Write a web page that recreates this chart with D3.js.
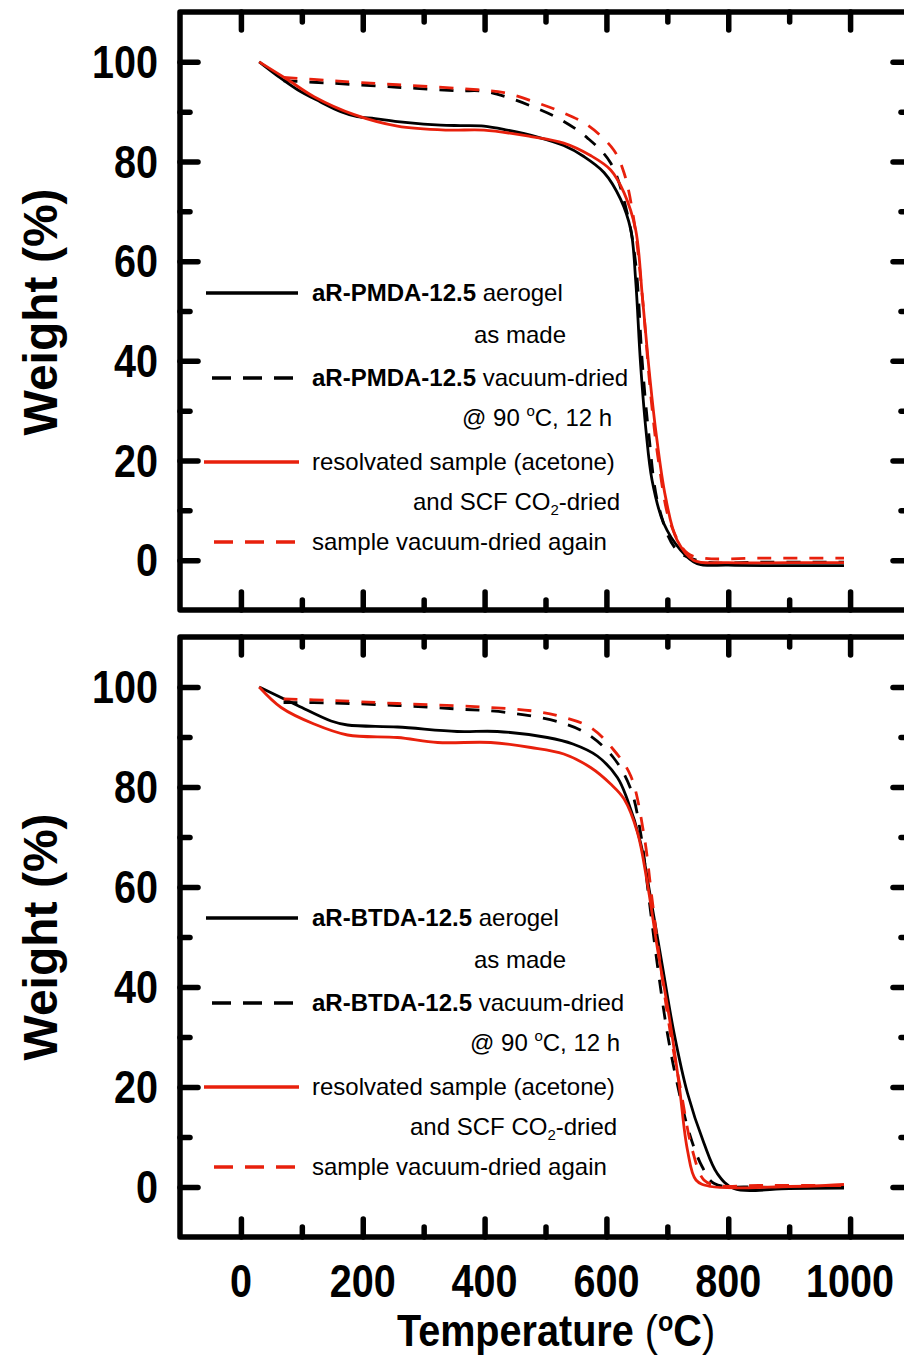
<!DOCTYPE html>
<html>
<head>
<meta charset="utf-8">
<title>TGA aR-PMDA-12.5 / aR-BTDA-12.5</title>
<script src="https://d3js.org/d3.v7.min.js"></script>
<style>
  body { margin: 0; background: #fff; }
  text { font-family: "Liberation Sans", Arial, sans-serif; fill: #000; }
</style>
</head>
<body>
<script>
var width = 904, height = 1359;

// ticks
var xMajor = [0, 200, 400, 600, 800, 1000];
var xMinor = [100, 300, 500, 700, 900];
var yMajor = [0, 20, 40, 60, 80, 100];
var yMinor = [10, 30, 50, 70, 90];

// aR-PMDA-12.5 (top panel)
var pmdaMadeT = [30, 60, 93, 130, 164, 191, 220, 257, 300, 328, 360, 399, 437, 487, 530, 563, 596, 623, 640, 648, 656, 665, 675, 694, 722, 749, 800, 900, 990];
var pmdaMadeW = [100, 97.2, 94.4, 92, 90, 89, 88.6, 88, 87.5, 87.3, 87.2, 87.1, 86.3, 84.9, 83.2, 81, 77.8, 72.5, 66.3, 56.2, 39.5, 26, 16, 7.4, 2, -0.7, -1.0, -1.1, -1.1];
var pmdaVacT = [70, 150, 257, 355, 399, 437, 481, 525, 569, 607, 634, 648, 659, 669, 686, 716, 760, 850, 990];
var pmdaVacW = [96.2, 95.7, 94.9, 94.2, 94.1, 92.9, 90.9, 88.4, 84.7, 79.7, 69.7, 59.6, 39.5, 26, 10.7, 2, -0.3, -0.4, -0.4];
var pmdaResolvT = [30, 77, 120, 186, 257, 339, 399, 476, 530, 574, 607, 629, 648, 659, 669, 681, 697, 716, 743, 800, 900, 990];
var pmdaResolvW = [100, 96.4, 93, 89.4, 87.1, 86.3, 86.3, 85, 83.7, 81.2, 78.3, 73.7, 66.3, 52.9, 39.5, 26, 12.7, 4, 0, -0.5, -0.5, -0.5];
var pmdaAgainT = [70, 150, 257, 388, 432, 481, 525, 569, 612, 629, 645, 659, 673, 686, 705, 733, 760, 850, 990];
var pmdaAgainW = [96.9, 96.2, 95.4, 94.4, 93.8, 92, 90, 87.3, 82.3, 77.7, 68.3, 52.9, 32.8, 19.5, 7.4, 1.4, 0.4, 0.4, 0.4];

// aR-BTDA-12.5 (bottom panel)
var btdaMadeT = [30, 93, 148, 175, 257, 355, 421, 503, 545, 585, 618, 634, 656, 673, 692, 711, 733, 760, 782, 809, 900, 990];
var btdaMadeW = [100, 96.3, 93.2, 92.4, 92, 91.1, 91.1, 89.9, 88.6, 86.2, 81.9, 77.6, 68.9, 57.5, 44.1, 30.8, 18.8, 8.8, 2.7, -0.3, -0.3, -0.2];
var btdaVacT = [70, 150, 257, 355, 437, 525, 569, 612, 640, 656, 670, 684, 700, 716, 736, 757, 777, 850, 990];
var btdaVacW = [96.9, 96.8, 96.3, 95.6, 94.9, 92.9, 90.6, 85.8, 79.6, 70.9, 57.5, 44.1, 30.8, 20.8, 10.8, 4.1, 0.7, 0, 0];
var btdaResolvT = [30, 66, 120, 175, 257, 323, 410, 476, 530, 574, 607, 629, 651, 667, 684, 703, 719, 733, 747, 771, 900, 960, 990];
var btdaResolvW = [100, 95.9, 92.6, 90.4, 89.9, 88.9, 88.9, 87.9, 86.6, 83.9, 80.6, 77.6, 70.9, 60.9, 47.5, 34.1, 20.8, 7.4, 1.4, 0.1, 0.1, 0.3, 0.5];
var btdaAgainT = [70, 150, 257, 394, 480, 525, 574, 612, 640, 661, 675, 689, 705, 722, 741, 760, 782, 850, 990];
var btdaAgainW = [97.6, 97.3, 96.7, 96, 95.2, 94.1, 91.9, 87.4, 82.2, 70.9, 57.5, 44.1, 30.8, 19.4, 7.4, 1.4, 0.3, 0.3, 0.3];

var red = "#e8200c";

var svg = d3.select("body").append("svg")
    .attr("width", width)
    .attr("height", height);

var x = d3.scaleLinear().domain([-100, 1100]).range([180, 911]);

var panels = [
  { top: 12, bottom: 610, name: "aR-PMDA-12.5",
    series: [[pmdaMadeT, pmdaMadeW], [pmdaVacT, pmdaVacW], [pmdaResolvT, pmdaResolvW], [pmdaAgainT, pmdaAgainW]] },
  { top: 637, bottom: 1237, name: "aR-BTDA-12.5",
    series: [[btdaMadeT, btdaMadeW], [btdaVacT, btdaVacW], [btdaResolvT, btdaResolvW], [btdaAgainT, btdaAgainW]] }
];
var styles = [
  { color: "#000", dash: null },
  { color: "#000", dash: "14,12" },
  { color: red, dash: null },
  { color: red, dash: "14,12" }
];

function styleTicks(g) {
  g.select(".domain").remove();
  g.selectAll("line")
      .attr("stroke", "#000")
      .attr("stroke-width", 5.5)
      .attr("stroke-linecap", "round");
}

panels.forEach(function(p, pi) {
  var y = d3.scaleLinear().domain([-10, 110]).range([p.bottom, p.top]);
  var g = svg.append("g");

  // lines
  var line = d3.line()
      .x(function(d) { return x(d[0]); })
      .y(function(d) { return y(d[1]); })
      .curve(d3.curveCatmullRom.alpha(0.5));
  p.series.forEach(function(s, si) {
    var pts = s[0].map(function(t, i) { return [t, s[1][i]]; });
    g.append("path")
        .attr("d", line(pts))
        .attr("fill", "none")
        .attr("stroke", styles[si].color)
        .attr("stroke-width", 2.8)
        .attr("stroke-dasharray", styles[si].dash);
  });

  // ticks
  [[xMajor, 18], [xMinor, 10]].forEach(function(t) {
    g.append("g").attr("transform", "translate(0," + p.bottom + ")")
        .call(d3.axisBottom(x).tickValues(t[0]).tickSize(-t[1]).tickFormat("")).call(styleTicks);
    g.append("g").attr("transform", "translate(0," + p.top + ")")
        .call(d3.axisTop(x).tickValues(t[0]).tickSize(-t[1]).tickFormat("")).call(styleTicks);
  });
  [[yMajor, 18], [yMinor, 10]].forEach(function(t) {
    g.append("g").attr("transform", "translate(180,0)")
        .call(d3.axisLeft(y).tickValues(t[0]).tickSize(-t[1]).tickFormat("")).call(styleTicks);
    g.append("g").attr("transform", "translate(911,0)")
        .call(d3.axisRight(y).tickValues(t[0]).tickSize(-t[1]).tickFormat("")).call(styleTicks);
  });

  // frame
  g.append("rect")
      .attr("x", 180).attr("y", p.top)
      .attr("width", 731).attr("height", p.bottom - p.top)
      .attr("fill", "none").attr("stroke", "#000")
      .attr("stroke-width", 5.5).attr("stroke-linejoin", "round");

  // y tick labels
  yMajor.forEach(function(v) {
    g.append("text")
        .attr("transform", "translate(158," + (y(v) + 16) + ") scale(0.86,1)")
        .attr("text-anchor", "end")
        .attr("font-weight", "bold")
        .attr("font-size", 46)
        .text(v);
  });

  // y title
  g.append("text")
      .attr("transform", "translate(57," + (p.top + 300) + ") rotate(-90)")
      .attr("text-anchor", "middle")
      .attr("font-weight", "bold")
      .attr("font-size", 48)
      .text("Weight (%)");

  // legend
  var ly = [p.top + 281, p.top + 323, p.top + 366, p.top + 406, p.top + 450, p.top + 490, p.top + 530];
  var lineRows = [[0, 206, 298], [2, 212, 298], [4, 204, 299], [6, 214, 299]];
  lineRows.forEach(function(r, i) {
    g.append("line")
        .attr("x1", r[1]).attr("x2", r[2])
        .attr("y1", ly[r[0]]).attr("y2", ly[r[0]])
        .attr("stroke", styles[i].color)
        .attr("stroke-width", 3.5)
        .attr("stroke-dasharray", styles[i].dash ? "19,12" : null);
  });
  var fs = 24;
  var t1 = g.append("text").attr("x", 312).attr("y", ly[0] + 8).attr("font-size", fs);
  t1.append("tspan").attr("font-weight", "bold").text(p.name);
  t1.append("tspan").text(" aerogel");
  g.append("text").attr("x", 566).attr("y", ly[1] + 8).attr("font-size", fs)
      .attr("text-anchor", "end").text("as made");
  var t3 = g.append("text").attr("x", 312).attr("y", ly[2] + 8).attr("font-size", fs);
  t3.append("tspan").attr("font-weight", "bold").text(p.name);
  t3.append("tspan").text(" vacuum-dried");
  var t4 = g.append("text").attr("x", pi === 0 ? 462 : 470).attr("y", ly[3] + 8).attr("font-size", fs);
  t4.append("tspan").text("@ 90 ");
  t4.append("tspan").attr("font-size", 15).attr("dy", -10).text("o");
  t4.append("tspan").attr("dy", 10).text("C, 12 h");
  g.append("text").attr("x", 312).attr("y", ly[4] + 8).attr("font-size", fs)
      .text("resolvated sample (acetone)");
  var t6 = g.append("text").attr("x", pi === 0 ? 413 : 410).attr("y", ly[5] + 8).attr("font-size", fs);
  t6.append("tspan").text("and SCF CO");
  t6.append("tspan").attr("font-size", 15).attr("dy", 5).text("2");
  t6.append("tspan").attr("dy", -5).text("-dried");
  g.append("text").attr("x", 312).attr("y", ly[6] + 8).attr("font-size", fs)
      .text("sample vacuum-dried again");
});

// x tick labels (bottom panel only)
xMajor.forEach(function(v) {
  svg.append("text")
      .attr("transform", "translate(" + x(v) + ",1297) scale(0.86,1)")
      .attr("text-anchor", "middle")
      .attr("font-weight", "bold")
      .attr("font-size", 46)
      .text(v);
});

// x title
var xt = svg.append("text")
    .attr("transform", "translate(556,1346) scale(0.9,1)")
    .attr("text-anchor", "middle")
    .attr("font-size", 44);
xt.append("tspan").attr("font-weight", "bold").text("Temperature ");
xt.append("tspan").text("(");
xt.append("tspan").attr("font-weight", "bold").attr("font-size", 28).attr("dy", -15).text("o");
xt.append("tspan").attr("font-weight", "bold").attr("dy", 15).text("C");
xt.append("tspan").text(")");
</script>
</body>
</html>
